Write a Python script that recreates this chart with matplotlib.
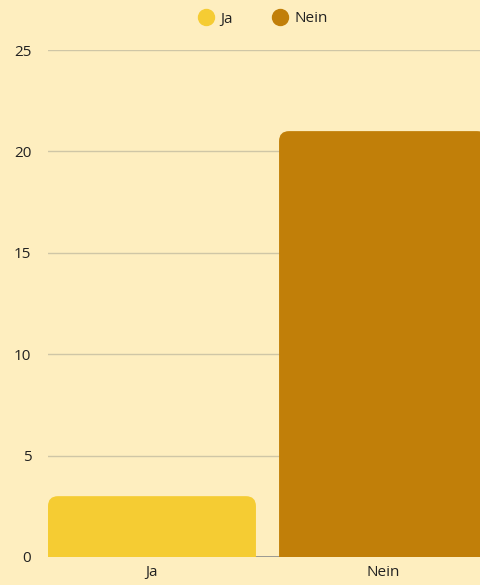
import matplotlib
matplotlib.use("Agg")
from matplotlib import pyplot as plt
from matplotlib.path import Path
from matplotlib.patches import PathPatch
from matplotlib.lines import Line2D

plt.rcParams['font.family'] = ['Open Sans', 'DejaVu Sans']

# data
categories = ["Ja", "Nein"]
values = [3, 21]
colors = ["#F5CC33", "#C17F09"]
yticks = [0, 5, 10, 15, 20, 25]

bg = "#FEEEBF"
bar_width = 0.9

fig = plt.figure(figsize=(4.81, 5.85), dpi=100, facecolor=bg)
ax = fig.add_axes([48 / 481, 28 / 585, 1 - 48 / 481, (557 - 50) / 585])
ax.set_facecolor(bg)

x = list(range(len(categories)))
bars = ax.bar(x, values, width=bar_width, color=colors, zorder=3)
ax.set_xlim(-0.45, 1.424)
ax.set_ylim(0, 25)

# rounded top corners (radius ~10 px)
fig.canvas.draw()
px_x = ax.transData.transform((1, 0))[0] - ax.transData.transform((0, 0))[0]
px_y = ax.transData.transform((0, 1))[1] - ax.transData.transform((0, 0))[1]
rx, ry = 10 / px_x, 10 / px_y
for b in bars:
    x0, y0 = b.get_x(), b.get_y()
    x1, y1 = x0 + b.get_width(), y0 + b.get_height()
    verts = [(x0, y0), (x0, y1 - ry), (x0, y1), (x0 + rx, y1),
             (x1 - rx, y1), (x1, y1), (x1, y1 - ry), (x1, y0), (x0, y0)]
    codes = [Path.MOVETO, Path.LINETO, Path.CURVE3, Path.CURVE3,
             Path.LINETO, Path.CURVE3, Path.CURVE3, Path.LINETO, Path.CLOSEPOLY]
    ax.add_patch(PathPatch(Path(verts, codes), facecolor=b.get_facecolor(),
                           edgecolor="none", zorder=3))
    b.set_visible(False)

ax.set_yticks(yticks)
ax.set_xticks(x, categories)
ax.grid(axis="y", color="#CFC6A6", linewidth=1, zorder=0)
ax.axhline(0, color="#8C8C8C", linewidth=1.2, zorder=2)
for s in ax.spines.values():
    s.set_visible(False)
ax.tick_params(axis="both", length=0, labelsize=11, colors="#222222")
ax.tick_params(axis="y", pad=12)
ax.tick_params(axis="x", pad=6)

handles = [Line2D([], [], marker="o", linestyle="none", markersize=11.5,
                  markerfacecolor=c, markeredgecolor=c) for c in colors]
fig.legend(handles, categories, loc="center", bbox_to_anchor=(0.545, 1 - 19 / 585),
           ncol=2, frameon=False, fontsize=11, handletextpad=0.35,
           columnspacing=2.45, labelcolor="#222222", handlelength=1.2)

fig.savefig("out.png", dpi=100, facecolor=bg)
